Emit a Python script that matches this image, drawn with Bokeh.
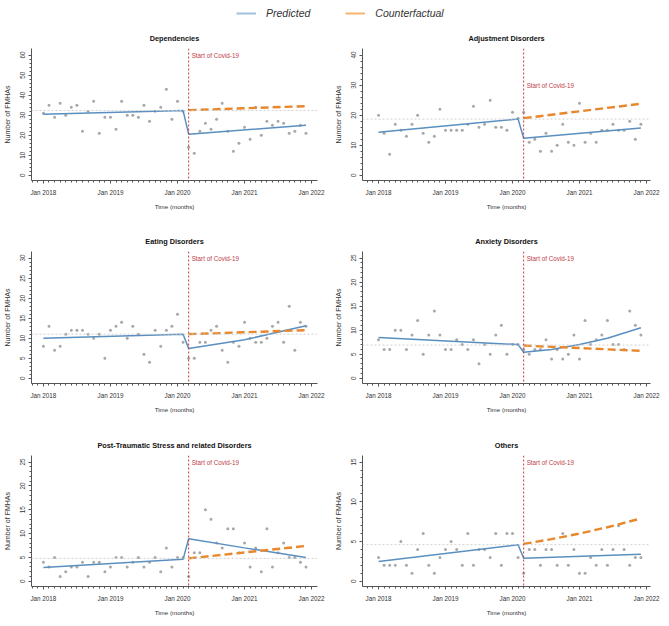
from bokeh.plotting import figure
from bokeh.layouts import column, row
from bokeh.models import Span, FixedTicker, Legend, LegendItem, Label
from bokeh.embed import file_html
from bokeh.resources import INLINE

# ---------------- data ----------------
month_index = list(range(48))          # 0 = Jan 2018 ... 47 = Dec 2021
year_tick_months = [0, 12, 24, 36, 48]
year_labels = ["Jan 2018", "Jan 2019", "Jan 2020", "Jan 2021", "Jan 2022"]
covid_start_month = 26                 # Mar 2020
series_names = ["Predicted", "Counterfactual"]

dep_obs = [31, 35, 29, 36, 30, 34, 35, 22, 32, 37, 21, 29, 29, 23, 37, 30, 30, 29, 35, 27,
           32, 34, 43, 28, 37, 32, 14, 11, 22, 26, 23, 28, 36, 22, 12, 16, 24, 18, 34, 20,
           27, 25, 27, 26, 21, 22, 25, 21]
dep_pred_m = [0, 25, 26, 47]
dep_pred = [30.5, 32.3, 20.5, 25.0]
dep_cf_m = [26, 47]
dep_cf = [32.5, 34.5]
dep_ref = 32.3

adj_obs = [20, 14, 7, 17, 15, 13, 17, 20, 14, 11, 13, 22, 15, 15, 15, 15, 17, 23, 16, 17,
           25, 16, 16, 15, 21, 19, 21, 11, 12, 8, 14, 8, 10, 17, 11, 10, 24, 11, 14, 11,
           15, 15, 17, 15, 15, 18, 12, 17]
adj_pred_m = [0, 25, 26, 47]
adj_pred = [14.3, 18.7, 12.3, 15.7]
adj_cf_m = [26, 47]
adj_cf = [19.0, 23.8]
adj_ref = 18.7

eat_obs = [8, 13, 7, 8, 11, 12, 12, 12, 11, 10, 11, 5, 12, 13, 14, 10, 13, 11, 6, 4,
           12, 8, 12, 13, 16, 9, 5, 5, 9, 9, 12, 13, 7, 4, 9, 8, 14, 10, 9, 9,
           10, 13, 14, 9, 18, 7, 14, 13]
eat_pred_m = [0, 25, 26, 36, 47]
eat_pred = [10.0, 11.0, 7.4, 9.6, 13.1]
eat_cf_m = [26, 47]
eat_cf = [11.0, 12.0]
eat_ref = 11.0

anx_obs = [8, 6, 6, 10, 10, 6, 9, 12, 5, 9, 14, 9, 6, 6, 8, 7, 6, 8, 3, 7,
           5, 9, 11, 5, 7, 7, 6, 5, 6, 6, 8, 4, 6, 4, 5, 9, 4, 12, 7, 8,
           9, 12, 7, 7, 6, 14, 11, 9]
anx_pred_m = [0, 25, 26, 31, 36, 41, 47]
anx_pred = [8.5, 7.0, 5.4, 6.0, 7.0, 8.3, 10.5]
anx_cf_m = [26, 47]
anx_cf = [6.8, 5.7]
anx_ref = 6.9

ptsd_obs = [4, 3, 5, 1, 2, 3, 3, 4, 1, 4, 4, 2, 3, 5, 5, 3, 4, 5, 3, 4,
            5, 2, 7, 3, 5, 5, 1, 6, 6, 15, 13, 8, 7, 11, 11, 6, 8, 3, 7, 2,
            11, 3, 6, 8, 5, 5, 4, 3]
ptsd_pred_m = [0, 25, 26, 36, 47]
ptsd_pred = [2.9, 4.6, 8.9, 7.0, 5.0]
ptsd_cf_m = [26, 47]
ptsd_cf = [4.8, 7.4]
ptsd_ref = 4.8

oth_obs = [3, 2, 2, 2, 5, 2, 1, 4, 6, 2, 1, 3, 4, 5, 4, 2, 6, 2, 4, 4,
           3, 6, 2, 6, 6, 3, 1, 4, 4, 2, 4, 4, 2, 6, 2, 4, 1, 1, 3, 2,
           4, 2, 4, 7, 4, 2, 3, 3]
oth_pred_m = [0, 25, 26, 47]
oth_pred = [2.5, 4.6, 2.9, 3.4]
oth_cf_m = [26, 31, 36, 41, 47]
oth_cf = [4.7, 5.3, 6.0, 6.8, 7.9]
oth_ref = 4.6

# ---------------- styling ----------------
FONT = "Liberation Sans"
PRED_COLOR = "#5a8fc0"
CF_COLOR = "#e8872c"
PT_COLOR = "#a8a8a8"
AX_COLOR = "#555555"
TXT_COLOR = "#333333"
PW = 330

# column-dependent frame geometry (left column / right column)
COL_GEOM = {
    "left": dict(x_range=(-2.13, 49.06), border_left=28, border_right=13),
    "right": dict(x_range=(-2.87, 48.72), border_left=32, border_right=10),
}


def make_panel(title, obs, pm, pv, cm, cv, ref, ymax, ystep, yminor, label_y, ph, bottom, col):
    g = COL_GEOM[col]
    p = figure(width=PW, height=ph, title=title,
               x_range=g["x_range"], y_range=(-0.044 * ymax, ymax * 1.055),
               output_backend="svg", toolbar_location=None,
               min_border_left=g["border_left"], min_border_right=g["border_right"],
               min_border_top=20, min_border_bottom=bottom)
    p.title.align = "center"
    p.title.text_font = FONT
    p.title.text_font_size = "7.3px"
    p.title.text_font_style = "bold"
    p.title.text_color = "#111111"
    p.title.standoff = 12
    p.outline_line_color = None
    p.grid.visible = False
    p.background_fill_color = "white"

    # reference + intervention lines
    p.add_layout(Span(location=ref, dimension="width", line_color="#cfcfcf",
                      line_dash="2 2", line_width=1))
    p.add_layout(Span(location=covid_start_month, dimension="height", line_color="#cc3340",
                      line_dash="2 2", line_width=1))
    p.add_layout(Label(x=covid_start_month, y=label_y, text="Start of Covid-19",
                       x_offset=3, text_baseline="middle", text_font=FONT,
                       text_font_size="6.3px", text_color="#c0404a"))

    p.scatter(month_index, obs, size=3.0, color=PT_COLOR, line_color=None)
    p.line(pm, pv, line_color=PRED_COLOR, line_width=1.5)
    p.line(cm, cv, line_color=CF_COLOR, line_width=2.4, line_dash="8 4")

    # x axis
    xa = p.xaxis[0]
    xa.ticker = FixedTicker(ticks=year_tick_months, minor_ticks=list(range(-2, 49)))
    xa.major_label_overrides = {m: lab for m, lab in zip(year_tick_months, year_labels)}
    xa.axis_label = "Time (months)"
    # y axis
    ya = p.yaxis[0]
    ya.ticker = FixedTicker(ticks=list(range(0, ymax + 1, ystep)),
                            minor_ticks=list(range(0, ymax + 1, yminor)))
    ya.major_label_orientation = "vertical"
    ya.axis_label = "Number of FMHAs"
    for ax in (xa, ya):
        ax.axis_line_color = AX_COLOR
        ax.major_tick_line_color = AX_COLOR
        ax.minor_tick_line_color = AX_COLOR
        ax.major_tick_out = 3
        ax.major_tick_in = 0
        ax.minor_tick_out = 2
        ax.minor_tick_in = 0
        ax.major_label_text_font = FONT
        ax.major_label_text_font_size = "6.3px"
        ax.major_label_text_color = TXT_COLOR
        ax.axis_label_text_font = FONT
        ax.axis_label_text_font_style = "normal"
        ax.axis_label_text_color = TXT_COLOR
    xa.axis_label_text_font_size = "6.2px"
    ya.axis_label_text_font_size = "7px"
    xa.major_label_standoff = 5
    xa.axis_label_standoff = 4
    ya.major_label_standoff = 3
    ya.axis_label_standoff = 7
    return p


p1 = make_panel("Dependencies", dep_obs, dep_pred_m, dep_pred, dep_cf_m, dep_cf, dep_ref,
                60, 10, 2, 60, 203, 48, "left")
p2 = make_panel("Adjustment Disorders", adj_obs, adj_pred_m, adj_pred, adj_cf_m, adj_cf, adj_ref,
                40, 10, 2, 30, 203, 48, "right")
p3 = make_panel("Eating Disorders", eat_obs, eat_pred_m, eat_pred, eat_cf_m, eat_cf, eat_ref,
                30, 5, 1, 30, 204, 49, "left")
p4 = make_panel("Anxiety Disorders", anx_obs, anx_pred_m, anx_pred, anx_cf_m, anx_cf, anx_ref,
                25, 5, 1, 25, 204, 49, "right")
p5 = make_panel("Post-Traumatic Stress and related Disorders", ptsd_obs, ptsd_pred_m, ptsd_pred,
                ptsd_cf_m, ptsd_cf, ptsd_ref, 25, 5, 1, 25, 186, 30, "left")
p6 = make_panel("Others", oth_obs, oth_pred_m, oth_pred, oth_cf_m, oth_cf, oth_ref,
                15, 5, 1, 15, 186, 30, "right")

# legend strip
lg = figure(width=2 * PW, height=25, x_range=(0, 1), y_range=(0, 1),
            output_backend="svg", toolbar_location=None, min_border=0)
lg.axis.visible = False
lg.grid.visible = False
lg.outline_line_color = None
r_pred = lg.line(x=[-5, -4], y=[-5, -5], line_color="#9fbfdc", line_width=2)
r_cf = lg.line(x=[-5, -4], y=[-5, -5], line_color="#f6b56e", line_width=2)
legend = Legend(items=[LegendItem(label=series_names[0], renderers=[r_pred]),
                       LegendItem(label=series_names[1], renderers=[r_cf])],
                orientation="horizontal", location=(236, 6),
                glyph_width=20, glyph_height=12, label_height=12,
                label_standoff=10, spacing=35, padding=0, margin=0,
                border_line_alpha=0, background_fill_alpha=0,
                label_text_font=FONT, label_text_font_size="10.5px",
                label_text_font_style="italic", label_text_color="#333333")
lg.add_layout(legend, "center")

layout = column(lg, row(p1, p2), row(p3, p4), row(p5, p6))

open("out.html", "w").write(file_html(layout, INLINE))
